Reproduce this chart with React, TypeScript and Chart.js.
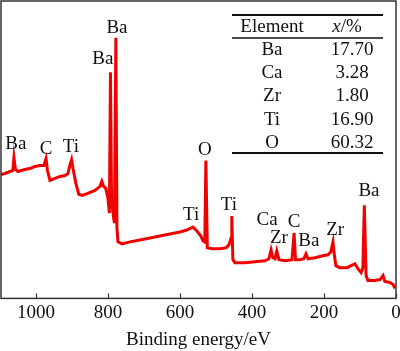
import React, { useEffect, useRef } from "react";
import { Chart, registerables } from "chart.js";

Chart.register(...registerables);

// Binding energy (eV) and intensity (arb. units)
const energy = [
  1097, 1086, 1072, 1064, 1061, 1057, 1050, 1031, 1017, 1003, 989, 978, 972, 968, 961, 947, 933, 919, 911, 906,
  901, 897, 889, 881, 872, 856, 836, 822, 817, 812, 806, 800, 796, 793, 790, 786, 782, 778, 775, 772,
  761, 739, 711, 683, 656, 628, 600, 581, 564, 553, 542, 536, 531, 528, 524, 511, 489, 472, 464, 458,
  456, 453, 447, 419, 392, 364, 353, 347, 342, 336, 331, 325, 308, 289, 283, 279, 267, 256, 250, 244,
  225, 203, 189, 181, 175, 172, 167, 156, 136, 119, 114, 106, 97, 92, 88, 83, 78, 58, 44, 36,
  31, 17, 8, 3,
];
const intensity = [
  125, 126, 128, 129, 142, 130, 128, 130, 131, 133, 134, 134, 141, 129, 119, 121, 123, 124, 126, 134,
  140, 131, 116, 105, 104, 106, 109, 113, 118, 113, 111, 101, 86, 228, 101, 86, 76, 263, 71, 57,
  55, 57, 59, 61, 63, 65, 67, 69, 72, 68, 63, 58, 57, 139, 51, 50, 50, 51, 54, 61,
  83, 39, 36, 36, 37, 38, 40, 49, 41, 40, 48, 39, 38, 39, 66, 39, 39, 40, 45, 40,
  41, 43, 44, 47, 57, 46, 33, 31, 31, 34, 35, 30, 26, 31, 94, 23, 18, 18, 19, 23,
  17, 16, 14, 10,
];

// Peak annotations: element, energy, intensity at label centre
const peakNames = ["Ba", "C", "Ti", "Ba", "Ba", "Ti", "O", "Ti", "Ca", "Zr", "C", "Ba", "Zr", "Ba"];
const peakEnergy = [1056, 972, 903, 814, 775, 569, 531, 464, 358, 325, 283, 242, 169, 75];
const peakValue = [156, 151, 153, 241, 273, 84, 150, 94, 79, 61, 77, 58, 69, 108];

// Composition table
const tableElements = ["Ba", "Ca", "Zr", "Ti", "O"];
const tablePercent = ["17.70", "3.28", "1.80", "16.90", "60.32"];

const xTicks = [0, 200, 400, 600, 800, 1000];

const FONT = "'Liberation Serif', 'Times New Roman', serif";
const FS = 19;

const decorPlugin = {
  id: "decor",
  afterDraw(chart: any) {
    const { ctx, chartArea, scales } = chart;
    const xs = scales.x;
    const ys = scales.y;
    ctx.save();
    // frame
    ctx.strokeStyle = "#333";
    ctx.lineWidth = 1.5;
    ctx.strokeRect(chartArea.left, chartArea.top, chartArea.right - chartArea.left, chartArea.bottom - chartArea.top);
    // inward ticks
    ctx.lineWidth = 1.2;
    for (const t of xTicks) {
      const px = Math.round(xs.getPixelForValue(t)) + 0.5;
      ctx.beginPath();
      ctx.moveTo(px, chartArea.bottom);
      ctx.lineTo(px, chartArea.bottom - 5);
      ctx.stroke();
    }
    // peak labels
    ctx.fillStyle = "#111";
    ctx.font = `${FS}px ${FONT}`;
    ctx.textAlign = "center";
    ctx.textBaseline = "middle";
    peakNames.forEach((n, i) => {
      ctx.fillText(n, xs.getPixelForValue(peakEnergy[i]), ys.getPixelForValue(peakValue[i]));
    });
    // table
    const tl = 232, tr = 383;
    const c1 = 272, c2 = 352;
    ctx.strokeStyle = "#111";
    ctx.lineWidth = 2;
    ctx.beginPath();
    ctx.moveTo(tl, 15); ctx.lineTo(tr, 15);
    ctx.moveTo(tl, 153); ctx.lineTo(tr, 153);
    ctx.stroke();
    ctx.lineWidth = 1.5;
    ctx.beginPath();
    ctx.moveTo(tl, 38); ctx.lineTo(tr, 38);
    ctx.stroke();
    ctx.fillText("Element", c1, 27);
    // header x/% with italic x
    ctx.font = `italic ${FS}px ${FONT}`;
    const wx = ctx.measureText("x").width;
    ctx.font = `${FS}px ${FONT}`;
    const wp = ctx.measureText("/%").width;
    const start = 347 - (wx + wp) / 2;
    ctx.textAlign = "left";
    ctx.font = `italic ${FS}px ${FONT}`;
    ctx.fillText("x", start, 27);
    ctx.font = `${FS}px ${FONT}`;
    ctx.fillText("/%", start + wx, 27);
    ctx.textAlign = "center";
    tableElements.forEach((el, i) => {
      const y = 50 + i * 23.2;
      ctx.fillText(el, c1, y);
      ctx.fillText(tablePercent[i], c2, y);
    });
    ctx.restore();
  },
};

export default function App() {
  const ref = useRef<HTMLCanvasElement>(null);
  useEffect(() => {
    if (!ref.current) return;
    const chart = new Chart(ref.current, {
      type: "line",
      data: {
        datasets: [
          {
            data: energy.map((e, i) => ({ x: e, y: intensity[i] })),
            borderColor: "#f20000",
            borderWidth: 3,
            pointRadius: 0,
            tension: 0,
            fill: false,
          },
        ],
      },
      options: {
        responsive: false,
        animation: false,
        devicePixelRatio: 1,
        layout: { padding: { left: 1, top: 1, right: 4, bottom: 0 } },
        plugins: { legend: { display: false }, tooltip: { enabled: false } },
        scales: {
          x: {
            type: "linear",
            reverse: true,
            min: 0,
            max: 1097,
            afterBuildTicks: (scale: any) => {
              scale.ticks = xTicks.map((v) => ({ value: v }));
            },
            grid: { display: false, drawTicks: false },
            border: { display: false },
            ticks: {
              padding: 3,
              color: "#111",
              font: { family: FONT, size: FS },
              maxRotation: 0,
              callback: (v: any) => String(v),
            },
            title: {
              display: true,
              text: "Binding energy/eV",
              color: "#111",
              font: { family: FONT, size: FS },
              padding: { top: 1, bottom: 0 },
            },
          },
          y: {
            display: false,
            min: 0,
            max: 300,
          },
        },
      },
      plugins: [decorPlugin],
    });
    return () => chart.destroy();
  }, []);
  return (
    <div style={{ position: "absolute", left: 0, top: 0, width: 400, height: 351, background: "#fff" }}>
      <canvas ref={ref} width={400} height={351} style={{ width: 400, height: 351 }} />
    </div>
  );
}
